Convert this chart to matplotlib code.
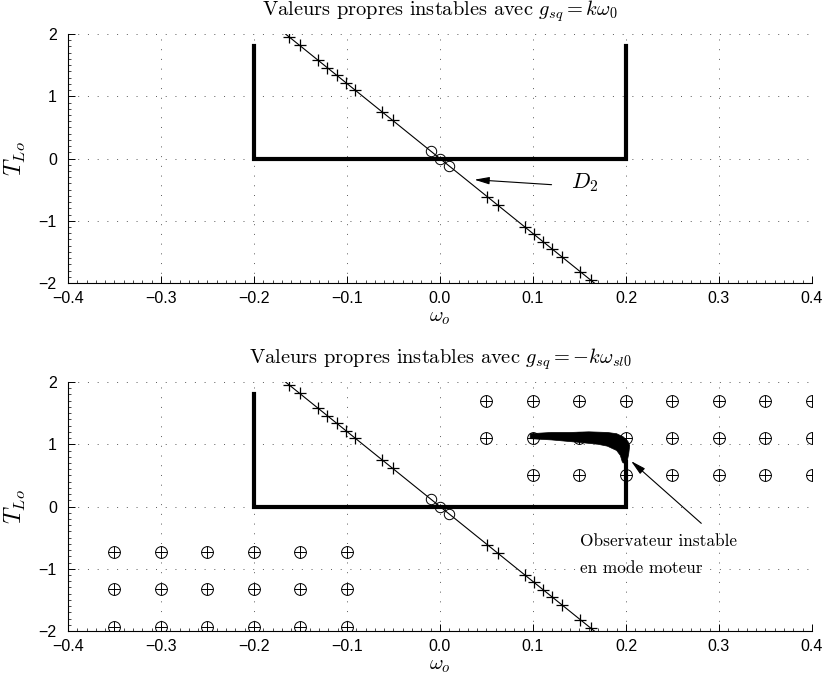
import numpy as np
import matplotlib.pyplot as plt
from matplotlib.ticker import MultipleLocator

plt.rcParams['mathtext.fontset'] = 'cm'
plt.rcParams['font.family'] = ['Liberation Sans', 'DejaVu Sans']

# domaine de fonctionnement (trait epais)
dom_x = [-0.2, -0.2, 0.2, 0.2]
dom_y_haut = [1.8, 0.0, 0.0, 1.8]
dom_y_bas = [1.8, 0.0, 0.0, 0.72]

# droite D2 et valeurs propres placees dessus
d2_x = [-0.166, 0.166]
d2_y = [2.0, -2.0]
vp_plus_x = [-0.162, -0.151, -0.131, -0.121, -0.111, -0.101, -0.091, -0.062, -0.051,
             0.051, 0.062, 0.091, 0.101, 0.111, 0.121, 0.131, 0.151, 0.162]
vp_plus_y = [1.95, 1.82, 1.58, 1.46, 1.34, 1.22, 1.10, 0.75, 0.62,
             -0.62, -0.75, -1.10, -1.22, -1.34, -1.46, -1.58, -1.82, -1.95]
vp_o_x = [-0.01, 0.0, 0.01]
vp_o_y = [0.12, 0.0, -0.12]

# points d'essai (cercle+croix) en mode moteur / generateur
pts_droite_x = [0.05, 0.1, 0.15, 0.2, 0.25, 0.3, 0.35, 0.4,
                0.05, 0.1, 0.15, 0.2, 0.25, 0.3, 0.35, 0.4,
                0.1, 0.15, 0.2, 0.25, 0.3, 0.35, 0.4]
pts_droite_y = [1.7] * 8 + [1.1] * 8 + [0.5] * 7
pts_gauche_x = [-0.35, -0.3, -0.25, -0.2, -0.15, -0.1] * 3
pts_gauche_y = [-0.73] * 6 + [-1.33] * 6 + [-1.93] * 6

# zone des valeurs propres instables (faisceau noir)
zone_haut_x = [0.097, 0.12, 0.14, 0.16, 0.18, 0.19, 0.197, 0.202, 0.204, 0.203, 0.201]
zone_haut_y = [1.17, 1.19, 1.19, 1.20, 1.19, 1.17, 1.12, 1.05, 0.98, 0.85, 0.70]
zone_bas_x = [0.097, 0.12, 0.15, 0.17, 0.18, 0.19, 0.194, 0.196, 0.197]
zone_bas_y = [1.09, 1.07, 1.03, 1.0, 0.97, 0.90, 0.82, 0.72, 0.70]

titres = [r'Valeurs propres instables avec $g_{sq}=k\omega_0$',
          r'Valeurs propres instables avec $g_{sq}=-k\omega_{sl0}$']

fig = plt.figure(figsize=(8.27, 6.81), dpi=100)
ax1 = fig.add_axes([0.0822, 0.5844, 0.8996, 0.3656])
ax2 = fig.add_axes([0.0822, 0.0734, 0.8996, 0.3656])

for ax, titre, dom_y in zip([ax1, ax2], titres, [dom_y_haut, dom_y_bas]):
    ax.plot(dom_x, dom_y, color='k', lw=3, solid_joinstyle='miter', zorder=3)
    ax.plot(d2_x, d2_y, color='k', lw=0.8, zorder=4)
    ax.plot(vp_plus_x, vp_plus_y, '+', color='k', ms=8, mew=0.9, zorder=4)
    ax.plot(vp_o_x, vp_o_y, 'o', mfc='none', mec='k', ms=7.5, mew=0.7, zorder=4)

    ax.set_xlim(-0.4, 0.4)
    ax.set_ylim(-2, 2)
    ax.xaxis.set_major_locator(MultipleLocator(0.1))
    ax.xaxis.set_minor_locator(MultipleLocator(0.01))
    ax.yaxis.set_major_locator(MultipleLocator(1))
    ax.yaxis.set_minor_locator(MultipleLocator(0.1))
    ax.tick_params(which='major', direction='in', length=5, width=0.7, labelsize=11.5, pad=6)
    ax.tick_params(which='minor', direction='in', length=2.5, width=0.5)
    ax.tick_params(axis='y', which='major', pad=8)
    ax.grid(True, which='major', color='0.35', lw=0.7, linestyle=(0, (1, 9)))
    ax.spines['top'].set_visible(False)
    ax.spines['right'].set_visible(False)
    for s in ['left', 'bottom']:
        ax.spines[s].set_linewidth(0.8)

    ax.set_title(titre, fontsize=14.7, family='cmr10', pad=13)
    ax.set_xlabel(r'$\omega_o$', fontsize=15, labelpad=1)
    ax.set_ylabel(r'$T_{Lo}$', fontsize=17, labelpad=8)

# graphe du haut : fleche vers la droite D2
ax1.annotate('', xy=(0.037, -0.34), xytext=(0.12, -0.42),
             arrowprops=dict(arrowstyle='-|>,head_length=0.9,head_width=0.22',
                             color='k', lw=0.8, shrinkA=0, shrinkB=0))
ax1.text(0.141, -0.39, r'$D_2$', fontsize=16, ha='left', va='center')

# graphe du bas : points d'essai et zone instable
for px, py in [(pts_droite_x, pts_droite_y), (pts_gauche_x, pts_gauche_y)]:
    ax2.plot(px, py, 'o', mfc='none', mec='k', ms=8.5, mew=0.7, zorder=2)
    ax2.plot(px, py, '+', color='k', ms=8.5, mew=0.7, zorder=2)

ax2.fill(zone_haut_x + zone_bas_x[::-1], zone_haut_y + zone_bas_y[::-1],
         color='k', lw=0.5, zorder=5)

ax2.annotate('', xy=(0.2055, 0.73), xytext=(0.281, -0.27),
             arrowprops=dict(arrowstyle='-|>,head_length=0.9,head_width=0.22',
                             color='k', lw=0.8, shrinkA=0, shrinkB=0))
ax2.text(0.1505, -0.565, 'Observateur instable', fontsize=12.4, family='cmr10',
         ha='left', va='center')
ax2.text(0.1505, -0.99, 'en mode moteur', fontsize=12.4, family='cmr10',
         ha='left', va='center')

fig.savefig('out.png', dpi=100)
